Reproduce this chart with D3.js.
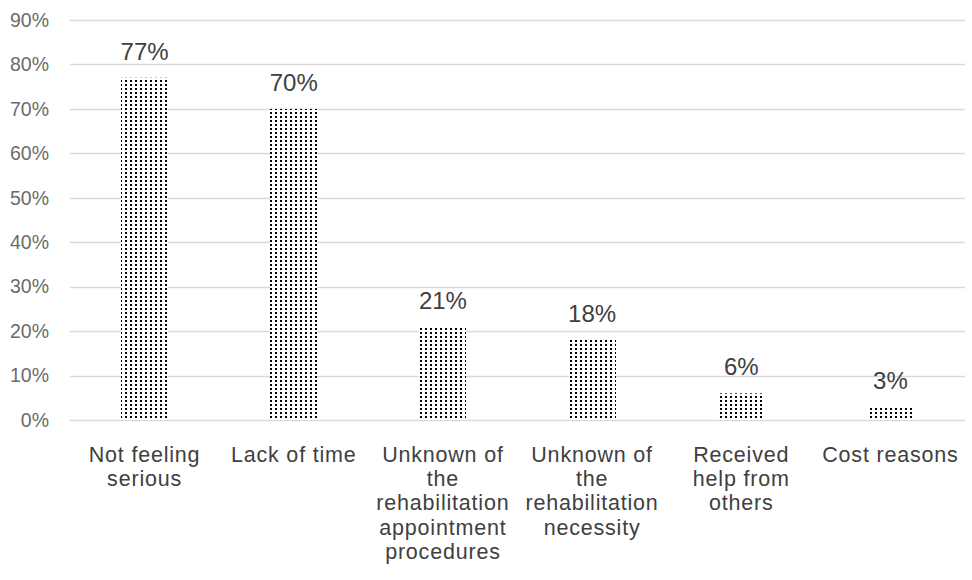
<!DOCTYPE html>
<html>
<head>
<meta charset="utf-8">
<script src="https://cdn.jsdelivr.net/npm/d3@7"></script>
<style>
  html, body { margin: 0; padding: 0; background: #ffffff; }
  svg { display: block; }
</style>
</head>
<body>
<svg id="chart" width="972" height="580"></svg>
<script>
// Reasons for not seeking rehabilitation (share of respondents, %)
const categories = [
  "Not feeling serious",
  "Lack of time",
  "Unknown of the rehabilitation appointment procedures",
  "Unknown of the rehabilitation necessity",
  "Received help from others",
  "Cost reasons"
];
// Line breaks used for the wrapped category labels
const categoryLines = [
  ["Not feeling", "serious"],
  ["Lack of time"],
  ["Unknown of", "the", "rehabilitation", "appointment", "procedures"],
  ["Unknown of", "the", "rehabilitation", "necessity"],
  ["Received", "help from", "others"],
  ["Cost reasons"]
];
const values = [77, 70, 21, 18, 6, 3];
const yTicks = [0, 10, 20, 30, 40, 50, 60, 70, 80, 90];

const svg = d3.select("#chart");
const margin = { left: 70, right: 7, top: 20, bottom: 160 };
const W = 972, H = 580;
const font = "'Liberation Sans', Arial, sans-serif";

const x = d3.scaleBand()
  .domain(categories)
  .range([margin.left, W - margin.right])
  .padding(0);

const y = d3.scaleLinear()
  .domain([0, 90])
  .range([H - margin.bottom, margin.top]);

// Dotted fill pattern for the bars
const defs = svg.append("defs");
const pat = defs.append("pattern")
  .attr("id", "dots")
  .attr("patternUnits", "userSpaceOnUse")
  .attr("width", 5)
  .attr("height", 4);
pat.append("rect").attr("width", 5).attr("height", 4).attr("fill", "#ffffff");
pat.append("rect").attr("x", 0).attr("y", 0).attr("width", 2).attr("height", 2).attr("fill", "#000000");

// Horizontal gridlines
svg.append("g")
  .selectAll("line")
  .data(yTicks)
  .join("line")
  .attr("x1", margin.left)
  .attr("x2", W - margin.right)
  .attr("y1", d => Math.round(y(d)) + 0.5)
  .attr("y2", d => Math.round(y(d)) + 0.5)
  .attr("stroke", "#d9d9d9")
  .attr("stroke-width", 1.5);

// Y axis tick labels
const yAxis = d3.axisLeft(y)
  .tickValues(yTicks)
  .tickFormat(d => d + "%")
  .tickSize(0)
  .tickPadding(0);
const gy = svg.append("g")
  .attr("transform", `translate(49,0)`)
  .call(yAxis);
gy.select(".domain").remove();
gy.selectAll("text")
  .attr("fill", "#6b6b6b")
  .style("font-family", font)
  .style("font-size", "19.5px");

// Bars
const barW = x.bandwidth() * 0.315;
svg.append("g")
  .selectAll("rect")
  .data(values)
  .join("rect")
  .attr("x", (d, i) => Math.round(x(categories[i]) + (x.bandwidth() - barW) / 2))
  .attr("y", d => y(d))
  .attr("width", Math.round(barW))
  .attr("height", d => y(0) - y(d))
  .attr("fill", "url(#dots)");

// Value labels
svg.append("g")
  .selectAll("text")
  .data(values)
  .join("text")
  .attr("x", (d, i) => x(categories[i]) + x.bandwidth() / 2)
  .attr("y", d => y(d) - 18)
  .attr("text-anchor", "middle")
  .attr("fill", "#404040")
  .style("font-family", font)
  .style("font-size", "24px")
  .text(d => d + "%");

// Category labels
const lineGap = 24.2;
const gx = svg.append("g");
categoryLines.forEach((lines, i) => {
  const cx = x(categories[i]) + x.bandwidth() / 2;
  const t = gx.append("text")
    .attr("x", cx)
    .attr("y", 462)
    .attr("text-anchor", "middle")
    .attr("fill", "#404040")
    .style("font-family", font)
    .style("font-size", "21.5px")
    .style("letter-spacing", "0.8px");
  lines.forEach((line, j) => {
    t.append("tspan")
      .attr("x", cx)
      .attr("y", 462 + j * lineGap)
      .text(line);
  });
});
</script>
</body>
</html>
